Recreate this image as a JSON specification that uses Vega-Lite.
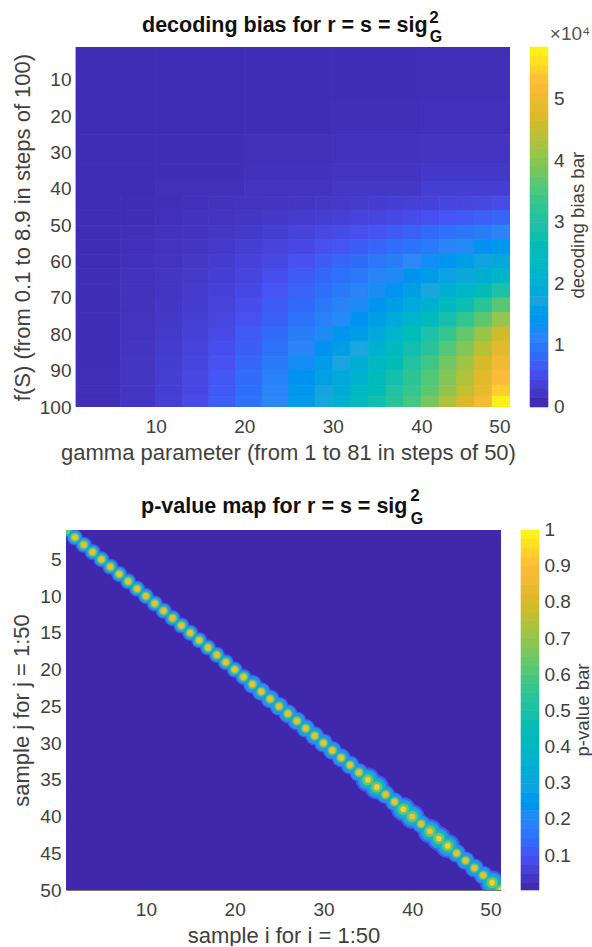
{"$schema":"https://vega.github.io/schema/vega-lite/v6.json","padding":{"left":10,"top":9,"right":4,"bottom":0},"background":"white","spacing":24,"resolve":{"scale":{"color":"independent","stroke":"independent"}},"config":{"view":{"stroke":null},"axis":{"labelFont":"Liberation Sans","titleFont":"Liberation Sans","labelFontSize":19,"titleFontSize":22,"labelColor":"#404040","titleColor":"#404040","titleFontWeight":"normal","grid":false,"ticks":false,"domainColor":"#777","labelOverlap":false},"title":{"font":"Liberation Sans","fontSize":21.5,"fontWeight":"bold","color":"#111","anchor":"start","frame":"group"}},"datasets":{"diag":[
{"i":1,"j":1,"p":0.6,"w":1},{"i":2,"j":2,"p":0.88,"w":1},{"i":3,"j":3,"p":0.87,"w":1},{"i":4,"j":4,"p":0.88,"w":1},{"i":5,"j":5,"p":0.88,"w":1},{"i":6,"j":6,"p":0.87,"w":1},{"i":7,"j":7,"p":0.89,"w":1},{"i":8,"j":8,"p":0.87,"w":1},{"i":9,"j":9,"p":0.88,"w":1},{"i":10,"j":10,"p":0.88,"w":1},
{"i":11,"j":11,"p":0.88,"w":1},{"i":12,"j":12,"p":0.89,"w":1},{"i":13,"j":13,"p":0.88,"w":1},{"i":14,"j":14,"p":0.88,"w":1},{"i":15,"j":15,"p":0.88,"w":1.05},{"i":16,"j":16,"p":0.89,"w":1.1},{"i":17,"j":17,"p":0.89,"w":1.1},{"i":18,"j":18,"p":0.88,"w":1.1},{"i":19,"j":19,"p":0.88,"w":1.1},{"i":20,"j":20,"p":0.88,"w":1.1},
{"i":21,"j":21,"p":0.88,"w":1.15},{"i":22,"j":22,"p":0.9,"w":1.25},{"i":23,"j":23,"p":0.9,"w":1.25},{"i":24,"j":24,"p":0.88,"w":1.2},{"i":25,"j":25,"p":0.89,"w":1.2},{"i":26,"j":26,"p":0.88,"w":1.2},{"i":27,"j":27,"p":0.88,"w":1.2},{"i":28,"j":28,"p":0.88,"w":1.25},{"i":29,"j":29,"p":0.9,"w":1.3},{"i":30,"j":30,"p":0.9,"w":1.3},
{"i":31,"j":31,"p":0.88,"w":1.3},{"i":32,"j":32,"p":0.88,"w":1.3},{"i":33,"j":33,"p":0.88,"w":1.3},{"i":34,"j":34,"p":0.88,"w":1.35},{"i":35,"j":35,"p":0.93,"w":1.6},{"i":36,"j":36,"p":0.93,"w":1.6},{"i":37,"j":37,"p":0.88,"w":1.4},{"i":38,"j":38,"p":0.9,"w":1.4},{"i":39,"j":39,"p":0.93,"w":1.55},{"i":40,"j":40,"p":0.9,"w":1.55},
{"i":41,"j":41,"p":0.88,"w":1.45},{"i":42,"j":42,"p":0.9,"w":1.5},{"i":43,"j":43,"p":0.93,"w":1.7},{"i":44,"j":44,"p":0.93,"w":1.7},{"i":45,"j":45,"p":0.88,"w":1.4},{"i":46,"j":46,"p":0.88,"w":1.3},{"i":47,"j":47,"p":0.88,"w":1.3},{"i":48,"j":48,"p":0.88,"w":1.3},{"i":49,"j":49,"p":0.93,"w":1.5},{"i":50,"j":50,"p":0.93,"w":1.5}
]},"vconcat":[{"width":444,"height":360,"title":{"text":"decoding bias for r = s = sig","dx":76,"offset":-27},"layer":[{"data":{"values":[
{"a":1,"b":10,"c":1,"d":15,"v":0.09},{"a":10,"b":20,"c":1,"d":15,"v":0.1},{"a":20,"b":30,"c":1,"d":15,"v":0.11},{"a":30,"b":40,"c":1,"d":15,"v":0.11},{"a":40,"b":50,"c":1,"d":15,"v":0.12},
{"a":1,"b":10,"c":15,"d":25,"v":0.09},{"a":10,"b":20,"c":15,"d":25,"v":0.1},{"a":20,"b":30,"c":15,"d":25,"v":0.11},{"a":30,"b":40,"c":15,"d":25,"v":0.12},{"a":40,"b":50,"c":15,"d":25,"v":0.14},
{"a":1,"b":10,"c":25,"d":33,"v":0.09},{"a":10,"b":20,"c":25,"d":33,"v":0.11},{"a":20,"b":30,"c":25,"d":33,"v":0.13},{"a":30,"b":40,"c":25,"d":33,"v":0.16},{"a":40,"b":50,"c":25,"d":33,"v":0.2},
{"a":1,"b":10,"c":33,"d":38,"v":0.09},{"a":10,"b":20,"c":33,"d":38,"v":0.11},{"a":20,"b":30,"c":33,"d":38,"v":0.15},{"a":30,"b":40,"c":33,"d":38,"v":0.2},{"a":40,"b":50,"c":33,"d":38,"v":0.25},
{"a":1,"b":10,"c":38,"d":42,"v":0.1},{"a":10,"b":20,"c":38,"d":42,"v":0.13},{"a":20,"b":30,"c":38,"d":42,"v":0.18},{"a":30,"b":40,"c":38,"d":42,"v":0.24},{"a":40,"b":50,"c":38,"d":42,"v":0.33},
{"a":1,"b":6,"c":42,"d":46,"v":0.09},{"a":6,"b":10,"c":42,"d":46,"v":0.11},{"a":10,"b":13,"c":42,"d":46,"v":0.12},{"a":13,"b":16,"c":42,"d":46,"v":0.14},{"a":16,"b":19,"c":42,"d":46,"v":0.16},{"a":19,"b":22,"c":42,"d":46,"v":0.18},{"a":22,"b":25,"c":42,"d":46,"v":0.2},{"a":25,"b":28,"c":42,"d":46,"v":0.22},{"a":28,"b":30,"c":42,"d":46,"v":0.24},{"a":30,"b":32,"c":42,"d":46,"v":0.26},{"a":32,"b":34,"c":42,"d":46,"v":0.29},{"a":34,"b":36,"c":42,"d":46,"v":0.31},{"a":36,"b":38,"c":42,"d":46,"v":0.33},{"a":38,"b":40,"c":42,"d":46,"v":0.35},{"a":40,"b":42,"c":42,"d":46,"v":0.38},{"a":42,"b":44,"c":42,"d":46,"v":0.41},{"a":44,"b":46,"c":42,"d":46,"v":0.43},{"a":46,"b":48,"c":42,"d":46,"v":0.46},{"a":48,"b":50,"c":42,"d":46,"v":0.49},
{"a":1,"b":6,"c":46,"d":50,"v":0.09},{"a":6,"b":10,"c":46,"d":50,"v":0.11},{"a":10,"b":13,"c":46,"d":50,"v":0.14},{"a":13,"b":16,"c":46,"d":50,"v":0.16},{"a":16,"b":19,"c":46,"d":50,"v":0.19},{"a":19,"b":22,"c":46,"d":50,"v":0.22},{"a":22,"b":25,"c":46,"d":50,"v":0.25},{"a":25,"b":28,"c":46,"d":50,"v":0.29},{"a":28,"b":30,"c":46,"d":50,"v":0.32},{"a":30,"b":32,"c":46,"d":50,"v":0.35},{"a":32,"b":34,"c":46,"d":50,"v":0.39},{"a":34,"b":36,"c":46,"d":50,"v":0.42},{"a":36,"b":38,"c":46,"d":50,"v":0.46},{"a":38,"b":40,"c":46,"d":50,"v":0.5},{"a":40,"b":42,"c":46,"d":50,"v":0.55},{"a":42,"b":44,"c":46,"d":50,"v":0.6},{"a":44,"b":46,"c":46,"d":50,"v":0.65},{"a":46,"b":48,"c":46,"d":50,"v":0.71},{"a":48,"b":50,"c":46,"d":50,"v":0.77},
{"a":1,"b":6,"c":50,"d":54,"v":0.1},{"a":6,"b":10,"c":50,"d":54,"v":0.13},{"a":10,"b":13,"c":50,"d":54,"v":0.16},{"a":13,"b":16,"c":50,"d":54,"v":0.19},{"a":16,"b":19,"c":50,"d":54,"v":0.23},{"a":19,"b":22,"c":50,"d":54,"v":0.27},{"a":22,"b":25,"c":50,"d":54,"v":0.32},{"a":25,"b":28,"c":50,"d":54,"v":0.39},{"a":28,"b":30,"c":50,"d":54,"v":0.44},{"a":30,"b":32,"c":50,"d":54,"v":0.49},{"a":32,"b":34,"c":50,"d":54,"v":0.55},{"a":34,"b":36,"c":50,"d":54,"v":0.61},{"a":36,"b":38,"c":50,"d":54,"v":0.67},{"a":38,"b":40,"c":50,"d":54,"v":0.74},{"a":40,"b":42,"c":50,"d":54,"v":0.82},{"a":42,"b":44,"c":50,"d":54,"v":0.9},{"a":44,"b":46,"c":50,"d":54,"v":0.98},{"a":46,"b":48,"c":50,"d":54,"v":1.06},{"a":48,"b":50,"c":50,"d":54,"v":1.14},
{"a":1,"b":6,"c":54,"d":58,"v":0.1},{"a":6,"b":10,"c":54,"d":58,"v":0.14},{"a":10,"b":13,"c":54,"d":58,"v":0.18},{"a":13,"b":16,"c":54,"d":58,"v":0.21},{"a":16,"b":19,"c":54,"d":58,"v":0.26},{"a":19,"b":22,"c":54,"d":58,"v":0.32},{"a":22,"b":25,"c":54,"d":58,"v":0.39},{"a":25,"b":28,"c":54,"d":58,"v":0.46},{"a":28,"b":30,"c":54,"d":58,"v":0.54},{"a":30,"b":32,"c":54,"d":58,"v":0.6},{"a":32,"b":34,"c":54,"d":58,"v":0.68},{"a":34,"b":36,"c":54,"d":58,"v":0.77},{"a":36,"b":38,"c":54,"d":58,"v":0.85},{"a":38,"b":40,"c":54,"d":58,"v":0.94},{"a":40,"b":42,"c":54,"d":58,"v":1.02},{"a":42,"b":44,"c":54,"d":58,"v":1.12},{"a":44,"b":46,"c":54,"d":58,"v":1.22},{"a":46,"b":48,"c":54,"d":58,"v":1.33},{"a":48,"b":50,"c":54,"d":58,"v":1.45},
{"a":1,"b":6,"c":58,"d":62,"v":0.1},{"a":6,"b":10,"c":58,"d":62,"v":0.15},{"a":10,"b":13,"c":58,"d":62,"v":0.19},{"a":13,"b":16,"c":58,"d":62,"v":0.24},{"a":16,"b":19,"c":58,"d":62,"v":0.31},{"a":19,"b":22,"c":58,"d":62,"v":0.38},{"a":22,"b":25,"c":58,"d":62,"v":0.46},{"a":25,"b":28,"c":58,"d":62,"v":0.57},{"a":28,"b":30,"c":58,"d":62,"v":0.67},{"a":30,"b":32,"c":58,"d":62,"v":0.77},{"a":32,"b":34,"c":58,"d":62,"v":0.86},{"a":34,"b":36,"c":58,"d":62,"v":0.96},{"a":36,"b":38,"c":58,"d":62,"v":1.06},{"a":38,"b":40,"c":58,"d":62,"v":1.17},{"a":40,"b":42,"c":58,"d":62,"v":1.29},{"a":42,"b":44,"c":58,"d":62,"v":1.42},{"a":44,"b":46,"c":58,"d":62,"v":1.56},{"a":46,"b":48,"c":58,"d":62,"v":1.7},{"a":48,"b":50,"c":58,"d":62,"v":1.85},
{"a":1,"b":6,"c":62,"d":66,"v":0.11},{"a":6,"b":10,"c":62,"d":66,"v":0.16},{"a":10,"b":13,"c":62,"d":66,"v":0.21},{"a":13,"b":16,"c":62,"d":66,"v":0.27},{"a":16,"b":19,"c":62,"d":66,"v":0.33},{"a":19,"b":22,"c":62,"d":66,"v":0.42},{"a":22,"b":25,"c":62,"d":66,"v":0.53},{"a":25,"b":28,"c":62,"d":66,"v":0.66},{"a":28,"b":30,"c":62,"d":66,"v":0.79},{"a":30,"b":32,"c":62,"d":66,"v":0.9},{"a":32,"b":34,"c":62,"d":66,"v":1.0},{"a":34,"b":36,"c":62,"d":66,"v":1.12},{"a":36,"b":38,"c":62,"d":66,"v":1.24},{"a":38,"b":40,"c":62,"d":66,"v":1.38},{"a":40,"b":42,"c":62,"d":66,"v":1.52},{"a":42,"b":44,"c":62,"d":66,"v":1.68},{"a":44,"b":46,"c":62,"d":66,"v":1.83},{"a":46,"b":48,"c":62,"d":66,"v":2.0},{"a":48,"b":50,"c":62,"d":66,"v":2.23},
{"a":1,"b":6,"c":66,"d":70,"v":0.11},{"a":6,"b":10,"c":66,"d":70,"v":0.17},{"a":10,"b":13,"c":66,"d":70,"v":0.22},{"a":13,"b":16,"c":66,"d":70,"v":0.28},{"a":16,"b":19,"c":66,"d":70,"v":0.36},{"a":19,"b":22,"c":66,"d":70,"v":0.46},{"a":22,"b":25,"c":66,"d":70,"v":0.59},{"a":25,"b":28,"c":66,"d":70,"v":0.74},{"a":28,"b":30,"c":66,"d":70,"v":0.88},{"a":30,"b":32,"c":66,"d":70,"v":0.99},{"a":32,"b":34,"c":66,"d":70,"v":1.12},{"a":34,"b":36,"c":66,"d":70,"v":1.25},{"a":36,"b":38,"c":66,"d":70,"v":1.39},{"a":38,"b":40,"c":66,"d":70,"v":1.6},{"a":40,"b":42,"c":66,"d":70,"v":1.78},{"a":42,"b":44,"c":66,"d":70,"v":2.0},{"a":44,"b":46,"c":66,"d":70,"v":2.25},{"a":46,"b":48,"c":66,"d":70,"v":2.55},{"a":48,"b":50,"c":66,"d":70,"v":2.9},
{"a":1,"b":6,"c":70,"d":74,"v":0.11},{"a":6,"b":10,"c":70,"d":74,"v":0.17},{"a":10,"b":13,"c":70,"d":74,"v":0.23},{"a":13,"b":16,"c":70,"d":74,"v":0.31},{"a":16,"b":19,"c":70,"d":74,"v":0.39},{"a":19,"b":22,"c":70,"d":74,"v":0.51},{"a":22,"b":25,"c":70,"d":74,"v":0.66},{"a":25,"b":28,"c":70,"d":74,"v":0.81},{"a":28,"b":30,"c":70,"d":74,"v":0.98},{"a":30,"b":32,"c":70,"d":74,"v":1.1},{"a":32,"b":34,"c":70,"d":74,"v":1.24},{"a":34,"b":36,"c":70,"d":74,"v":1.4},{"a":36,"b":38,"c":70,"d":74,"v":1.6},{"a":38,"b":40,"c":70,"d":74,"v":1.85},{"a":40,"b":42,"c":70,"d":74,"v":2.1},{"a":42,"b":44,"c":70,"d":74,"v":2.4},{"a":44,"b":46,"c":70,"d":74,"v":2.75},{"a":46,"b":48,"c":70,"d":74,"v":3.15},{"a":48,"b":50,"c":70,"d":74,"v":3.6},
{"a":1,"b":6,"c":74,"d":78,"v":0.11},{"a":6,"b":10,"c":74,"d":78,"v":0.18},{"a":10,"b":13,"c":74,"d":78,"v":0.25},{"a":13,"b":16,"c":74,"d":78,"v":0.33},{"a":16,"b":19,"c":74,"d":78,"v":0.43},{"a":19,"b":22,"c":74,"d":78,"v":0.56},{"a":22,"b":25,"c":74,"d":78,"v":0.72},{"a":25,"b":28,"c":74,"d":78,"v":0.91},{"a":28,"b":30,"c":74,"d":78,"v":1.08},{"a":30,"b":32,"c":74,"d":78,"v":1.22},{"a":32,"b":34,"c":74,"d":78,"v":1.38},{"a":34,"b":36,"c":74,"d":78,"v":1.6},{"a":36,"b":38,"c":74,"d":78,"v":1.88},{"a":38,"b":40,"c":74,"d":78,"v":2.2},{"a":40,"b":42,"c":74,"d":78,"v":2.5},{"a":42,"b":44,"c":74,"d":78,"v":2.85},{"a":44,"b":46,"c":74,"d":78,"v":3.25},{"a":46,"b":48,"c":74,"d":78,"v":3.65},{"a":48,"b":50,"c":74,"d":78,"v":4.1},
{"a":1,"b":6,"c":78,"d":82,"v":0.11},{"a":6,"b":10,"c":78,"d":82,"v":0.19},{"a":10,"b":13,"c":78,"d":82,"v":0.27},{"a":13,"b":16,"c":78,"d":82,"v":0.36},{"a":16,"b":19,"c":78,"d":82,"v":0.48},{"a":19,"b":22,"c":78,"d":82,"v":0.65},{"a":22,"b":25,"c":78,"d":82,"v":0.84},{"a":25,"b":28,"c":78,"d":82,"v":1.05},{"a":28,"b":30,"c":78,"d":82,"v":1.24},{"a":30,"b":32,"c":78,"d":82,"v":1.41},{"a":32,"b":34,"c":78,"d":82,"v":1.6},{"a":34,"b":36,"c":78,"d":82,"v":1.85},{"a":36,"b":38,"c":78,"d":82,"v":2.2},{"a":38,"b":40,"c":78,"d":82,"v":2.6},{"a":40,"b":42,"c":78,"d":82,"v":2.9},{"a":42,"b":44,"c":78,"d":82,"v":3.3},{"a":44,"b":46,"c":78,"d":82,"v":3.7},{"a":46,"b":48,"c":78,"d":82,"v":4.15},{"a":48,"b":50,"c":78,"d":82,"v":4.6},
{"a":1,"b":6,"c":82,"d":86,"v":0.11},{"a":6,"b":10,"c":82,"d":86,"v":0.2},{"a":10,"b":13,"c":82,"d":86,"v":0.29},{"a":13,"b":16,"c":82,"d":86,"v":0.39},{"a":16,"b":19,"c":82,"d":86,"v":0.53},{"a":19,"b":22,"c":82,"d":86,"v":0.7},{"a":22,"b":25,"c":82,"d":86,"v":0.91},{"a":25,"b":28,"c":82,"d":86,"v":1.15},{"a":28,"b":30,"c":82,"d":86,"v":1.36},{"a":30,"b":32,"c":82,"d":86,"v":1.56},{"a":32,"b":34,"c":82,"d":86,"v":1.76},{"a":34,"b":36,"c":82,"d":86,"v":2.05},{"a":36,"b":38,"c":82,"d":86,"v":2.4},{"a":38,"b":40,"c":82,"d":86,"v":2.8},{"a":40,"b":42,"c":82,"d":86,"v":3.15},{"a":42,"b":44,"c":82,"d":86,"v":3.55},{"a":44,"b":46,"c":82,"d":86,"v":3.95},{"a":46,"b":48,"c":82,"d":86,"v":4.4},{"a":48,"b":50,"c":82,"d":86,"v":4.85},
{"a":1,"b":6,"c":86,"d":90,"v":0.11},{"a":6,"b":10,"c":86,"d":90,"v":0.21},{"a":10,"b":13,"c":86,"d":90,"v":0.31},{"a":13,"b":16,"c":86,"d":90,"v":0.42},{"a":16,"b":19,"c":86,"d":90,"v":0.58},{"a":19,"b":22,"c":86,"d":90,"v":0.78},{"a":22,"b":25,"c":86,"d":90,"v":1.01},{"a":25,"b":28,"c":86,"d":90,"v":1.28},{"a":28,"b":30,"c":86,"d":90,"v":1.52},{"a":30,"b":32,"c":86,"d":90,"v":1.74},{"a":32,"b":34,"c":86,"d":90,"v":1.97},{"a":34,"b":36,"c":86,"d":90,"v":2.29},{"a":36,"b":38,"c":86,"d":90,"v":2.65},{"a":38,"b":40,"c":86,"d":90,"v":3.05},{"a":40,"b":42,"c":86,"d":90,"v":3.4},{"a":42,"b":44,"c":86,"d":90,"v":3.8},{"a":44,"b":46,"c":86,"d":90,"v":4.2},{"a":46,"b":48,"c":86,"d":90,"v":4.65},{"a":48,"b":50,"c":86,"d":90,"v":5.05},
{"a":1,"b":6,"c":90,"d":94,"v":0.12},{"a":6,"b":10,"c":90,"d":94,"v":0.21},{"a":10,"b":13,"c":90,"d":94,"v":0.32},{"a":13,"b":16,"c":90,"d":94,"v":0.45},{"a":16,"b":19,"c":90,"d":94,"v":0.62},{"a":19,"b":22,"c":90,"d":94,"v":0.84},{"a":22,"b":25,"c":90,"d":94,"v":1.08},{"a":25,"b":28,"c":90,"d":94,"v":1.36},{"a":28,"b":30,"c":90,"d":94,"v":1.63},{"a":30,"b":32,"c":90,"d":94,"v":1.86},{"a":32,"b":34,"c":90,"d":94,"v":2.13},{"a":34,"b":36,"c":90,"d":94,"v":2.5},{"a":36,"b":38,"c":90,"d":94,"v":2.84},{"a":38,"b":40,"c":90,"d":94,"v":3.2},{"a":40,"b":42,"c":90,"d":94,"v":3.55},{"a":42,"b":44,"c":90,"d":94,"v":3.95},{"a":44,"b":46,"c":90,"d":94,"v":4.35},{"a":46,"b":48,"c":90,"d":94,"v":4.8},{"a":48,"b":50,"c":90,"d":94,"v":5.25},
{"a":1,"b":6,"c":94,"d":97,"v":0.12},{"a":6,"b":10,"c":94,"d":97,"v":0.21},{"a":10,"b":13,"c":94,"d":97,"v":0.33},{"a":13,"b":16,"c":94,"d":97,"v":0.46},{"a":16,"b":19,"c":94,"d":97,"v":0.65},{"a":19,"b":22,"c":94,"d":97,"v":0.88},{"a":22,"b":25,"c":94,"d":97,"v":1.13},{"a":25,"b":28,"c":94,"d":97,"v":1.43},{"a":28,"b":30,"c":94,"d":97,"v":1.72},{"a":30,"b":32,"c":94,"d":97,"v":1.95},{"a":32,"b":34,"c":94,"d":97,"v":2.29},{"a":34,"b":36,"c":94,"d":97,"v":2.64},{"a":36,"b":38,"c":94,"d":97,"v":2.99},{"a":38,"b":40,"c":94,"d":97,"v":3.3},{"a":40,"b":42,"c":94,"d":97,"v":3.65},{"a":42,"b":44,"c":94,"d":97,"v":4.05},{"a":44,"b":46,"c":94,"d":97,"v":4.48},{"a":46,"b":48,"c":94,"d":97,"v":4.92},{"a":48,"b":50,"c":94,"d":97,"v":5.45},
{"a":1,"b":6,"c":97,"d":100,"v":0.12},{"a":6,"b":10,"c":97,"d":100,"v":0.22},{"a":10,"b":13,"c":97,"d":100,"v":0.34},{"a":13,"b":16,"c":97,"d":100,"v":0.48},{"a":16,"b":19,"c":97,"d":100,"v":0.68},{"a":19,"b":22,"c":97,"d":100,"v":0.92},{"a":22,"b":25,"c":97,"d":100,"v":1.18},{"a":25,"b":28,"c":97,"d":100,"v":1.5},{"a":28,"b":30,"c":97,"d":100,"v":1.8},{"a":30,"b":32,"c":97,"d":100,"v":2.05},{"a":32,"b":34,"c":97,"d":100,"v":2.45},{"a":34,"b":36,"c":97,"d":100,"v":2.8},{"a":36,"b":38,"c":97,"d":100,"v":3.15},{"a":38,"b":40,"c":97,"d":100,"v":3.45},{"a":40,"b":42,"c":97,"d":100,"v":3.85},{"a":42,"b":44,"c":97,"d":100,"v":4.3},{"a":44,"b":46,"c":97,"d":100,"v":4.7},{"a":46,"b":48,"c":97,"d":100,"v":5.15},{"a":48,"b":50,"c":97,"d":100,"v":5.75}
]},"mark":{"type":"rect","clip":true,"strokeWidth":0.8},"encoding":{"x":{"field":"a","type":"quantitative","scale":{"domain":[-0.129,50],"nice":false,"zero":false},"axis":{"values":[10,20,30,40,50],"title":"gamma parameter (from 1 to 81 in steps of 50)","labelPadding":10,"titlePadding":6,"labelOverlap":false,"domain":false}},"x2":{"field":"b"},"y":{"field":"c","type":"quantitative","scale":{"domain":[1,100],"reverse":true,"nice":false,"zero":false},"axis":{"values":[10,20,30,40,50,60,70,80,90,100],"tickCount":12,"offset":-10,"title":"f(S) (from 0.1 to 8.9 in steps of 100)","labelPadding":5,"domain":false,"titlePadding":5,"labelOverlap":false}},"y2":{"field":"d"},"color":{"field":"v","type":"quantitative","scale":{"domain":[0,0.585,1.17,1.755,2.34,2.925,3.51,4.095,4.68,5.265,5.85],"range":["#3e26a8","#4752f4","#2d87f7","#1ea5dd","#02b8c1","#1fc0a8","#4ac77c","#94c54c","#dab92a","#fdbb38","#f9fb15"]},"legend":null},"stroke":{"field":"v","type":"quantitative","scale":{"domain":[0,0.585,1.17,1.755,2.34,2.925,3.51,4.095,4.68,5.265,5.85],"range":["#3e26a8","#4752f4","#2d87f7","#1ea5dd","#02b8c1","#1fc0a8","#4ac77c","#94c54c","#dab92a","#fdbb38","#f9fb15"]},"legend":null}}},
{"data":{"values":[
{"a":52.26,"b":54.29,"c":1,"d":3.54,"v":5.775},{"a":52.26,"b":54.29,"c":3.54,"d":6.08,"v":5.625},{"a":52.26,"b":54.29,"c":6.08,"d":8.61,"v":5.475},{"a":52.26,"b":54.29,"c":8.61,"d":11.15,"v":5.325},{"a":52.26,"b":54.29,"c":11.15,"d":13.69,"v":5.175},{"a":52.26,"b":54.29,"c":13.69,"d":16.23,"v":5.025},{"a":52.26,"b":54.29,"c":16.23,"d":18.77,"v":4.875},{"a":52.26,"b":54.29,"c":18.77,"d":21.3,"v":4.725},
{"a":52.26,"b":54.29,"c":21.3,"d":23.84,"v":4.575},{"a":52.26,"b":54.29,"c":23.84,"d":26.38,"v":4.425},{"a":52.26,"b":54.29,"c":26.38,"d":28.92,"v":4.275},{"a":52.26,"b":54.29,"c":28.92,"d":31.46,"v":4.125},{"a":52.26,"b":54.29,"c":31.46,"d":33.99,"v":3.975},{"a":52.26,"b":54.29,"c":33.99,"d":36.53,"v":3.825},{"a":52.26,"b":54.29,"c":36.53,"d":39.07,"v":3.675},{"a":52.26,"b":54.29,"c":39.07,"d":41.61,"v":3.525},
{"a":52.26,"b":54.29,"c":41.61,"d":44.15,"v":3.375},{"a":52.26,"b":54.29,"c":44.15,"d":46.68,"v":3.225},{"a":52.26,"b":54.29,"c":46.68,"d":49.22,"v":3.075},{"a":52.26,"b":54.29,"c":49.22,"d":51.76,"v":2.925},{"a":52.26,"b":54.29,"c":51.76,"d":54.3,"v":2.775},{"a":52.26,"b":54.29,"c":54.3,"d":56.84,"v":2.625},{"a":52.26,"b":54.29,"c":56.84,"d":59.37,"v":2.475},{"a":52.26,"b":54.29,"c":59.37,"d":61.91,"v":2.325},
{"a":52.26,"b":54.29,"c":61.91,"d":64.45,"v":2.175},{"a":52.26,"b":54.29,"c":64.45,"d":66.99,"v":2.025},{"a":52.26,"b":54.29,"c":66.99,"d":69.53,"v":1.875},{"a":52.26,"b":54.29,"c":69.53,"d":72.06,"v":1.725},{"a":52.26,"b":54.29,"c":72.06,"d":74.6,"v":1.575},{"a":52.26,"b":54.29,"c":74.6,"d":77.14,"v":1.425},{"a":52.26,"b":54.29,"c":77.14,"d":79.68,"v":1.275},{"a":52.26,"b":54.29,"c":79.68,"d":82.22,"v":1.125},
{"a":52.26,"b":54.29,"c":82.22,"d":84.75,"v":0.975},{"a":52.26,"b":54.29,"c":84.75,"d":87.29,"v":0.825},{"a":52.26,"b":54.29,"c":87.29,"d":89.83,"v":0.675},{"a":52.26,"b":54.29,"c":89.83,"d":92.37,"v":0.525},{"a":52.26,"b":54.29,"c":92.37,"d":94.91,"v":0.375},{"a":52.26,"b":54.29,"c":94.91,"d":97.44,"v":0.225},{"a":52.26,"b":54.29,"c":97.44,"d":100,"v":0.075}
]},"mark":{"type":"rect","clip":false,"strokeWidth":0.6},"encoding":{"x":{"field":"a","type":"quantitative"},"x2":{"field":"b"},"y":{"field":"c","type":"quantitative"},"y2":{"field":"d"},"color":{"field":"v","type":"quantitative"},"stroke":{"field":"v","type":"quantitative"}}},
{"data":{"values":[{"a":54.97,"c":15.38,"t":"5"},{"a":54.97,"c":32.31,"t":"4"},{"a":54.97,"c":49.23,"t":"3"},{"a":54.97,"c":66.15,"t":"2"},{"a":54.97,"c":83.08,"t":"1"},{"a":54.97,"c":100,"t":"0"}]},"mark":{"type":"text","align":"left","baseline":"middle","font":"Liberation Sans","fontSize":19,"color":"#404040","clip":false},"encoding":{"x":{"field":"a","type":"quantitative"},"y":{"field":"c","type":"quantitative"},"text":{"field":"t"}}},
{"mark":{"type":"rule","color":"#777","strokeWidth":1},"encoding":{"x":{"datum":1},"x2":{"datum":50},"y":{"datum":100}}},
{"data":{"values":[{"t":"2"}]},"mark":{"type":"text","font":"Liberation Sans","fontWeight":"bold","fontSize":17,"color":"#111","dx":-76,"dy":-29,"clip":false},"encoding":{"x":{"datum":50},"y":{"datum":1},"text":{"field":"t"}}},
{"data":{"values":[{"t":"G"}]},"mark":{"type":"text","font":"Liberation Sans","fontWeight":"bold","fontSize":16,"color":"#111","dx":-74,"dy":-10,"clip":false},"encoding":{"x":{"datum":50},"y":{"datum":1},"text":{"field":"t"}}},
{"data":{"values":[{"t":"×10⁴"}]},"mark":{"type":"text","font":"Liberation Sans","fontSize":19,"color":"#555","dx":60,"dy":-13,"clip":false},"encoding":{"x":{"datum":50},"y":{"datum":1},"text":{"field":"t"}}},
{"data":{"values":[{"t":"decoding bias bar"}]},"mark":{"type":"text","font":"Liberation Sans","fontSize":18.6,"color":"#404040","angle":270,"dy":68,"clip":false},"encoding":{"x":{"datum":50},"y":{"datum":50},"text":{"field":"t"}}}
]},
{"width":435,"height":360,"title":{"text":"p-value map for r = s = sig","dx":75,"offset":-30},"layer":[
{"data":{"values":[{"a":1,"b":50,"c":1,"d":50,"p":0.005}]},"mark":{"type":"rect","clip":true},"encoding":{"x":{"field":"a","type":"quantitative","scale":{"domain":[1,50],"nice":false,"zero":false},"axis":{"values":[10,20,30,40,50],"title":"sample i for i = 1:50","labelPadding":10,"titlePadding":6,"labelOverlap":false}},"x2":{"field":"b"},"y":{"field":"c","type":"quantitative","scale":{"domain":[1,50],"reverse":true,"nice":false,"zero":false},"axis":{"values":[5,10,15,20,25,30,35,40,45,50],"tickCount":12,"title":"sample j for j = 1:50","labelPadding":5,"domain":false,"titlePadding":6,"labelOverlap":false}},"y2":{"field":"d"},"color":{"field":"p","type":"quantitative","scale":{"domain":[0,0.1,0.2,0.3,0.4,0.5,0.6,0.7,0.8,0.9,1],"range":["#3e26a8","#4752f4","#2d87f7","#1ea5dd","#02b8c1","#1fc0a8","#4ac77c","#94c54c","#dab92a","#fdbb38","#f9fb15"]},"legend":null}}},
{"data":{"values":[
{"a":52.25,"b":54.28,"c":1,"d":2.23,"p":0.988},{"a":52.25,"b":54.28,"c":2.23,"d":3.46,"p":0.963},{"a":52.25,"b":54.28,"c":3.46,"d":4.69,"p":0.938},{"a":52.25,"b":54.28,"c":4.69,"d":5.92,"p":0.913},{"a":52.25,"b":54.28,"c":5.92,"d":7.16,"p":0.888},{"a":52.25,"b":54.28,"c":7.16,"d":8.39,"p":0.863},{"a":52.25,"b":54.28,"c":8.39,"d":9.62,"p":0.838},{"a":52.25,"b":54.28,"c":9.62,"d":10.85,"p":0.813},
{"a":52.25,"b":54.28,"c":10.85,"d":12.08,"p":0.788},{"a":52.25,"b":54.28,"c":12.08,"d":13.31,"p":0.763},{"a":52.25,"b":54.28,"c":13.31,"d":14.54,"p":0.738},{"a":52.25,"b":54.28,"c":14.54,"d":15.77,"p":0.713},{"a":52.25,"b":54.28,"c":15.77,"d":17,"p":0.688},{"a":52.25,"b":54.28,"c":17,"d":18.23,"p":0.663},{"a":52.25,"b":54.28,"c":18.23,"d":19.46,"p":0.638},{"a":52.25,"b":54.28,"c":19.46,"d":20.7,"p":0.613},
{"a":52.25,"b":54.28,"c":20.7,"d":21.93,"p":0.588},{"a":52.25,"b":54.28,"c":21.93,"d":23.16,"p":0.563},{"a":52.25,"b":54.28,"c":23.16,"d":24.39,"p":0.538},{"a":52.25,"b":54.28,"c":24.39,"d":25.62,"p":0.513},{"a":52.25,"b":54.28,"c":25.62,"d":26.85,"p":0.488},{"a":52.25,"b":54.28,"c":26.85,"d":28.08,"p":0.463},{"a":52.25,"b":54.28,"c":28.08,"d":29.31,"p":0.438},{"a":52.25,"b":54.28,"c":29.31,"d":30.54,"p":0.413},
{"a":52.25,"b":54.28,"c":30.54,"d":31.77,"p":0.388},{"a":52.25,"b":54.28,"c":31.77,"d":33,"p":0.363},{"a":52.25,"b":54.28,"c":33,"d":34.24,"p":0.338},{"a":52.25,"b":54.28,"c":34.24,"d":35.47,"p":0.313},{"a":52.25,"b":54.28,"c":35.47,"d":36.7,"p":0.288},{"a":52.25,"b":54.28,"c":36.7,"d":37.93,"p":0.263},{"a":52.25,"b":54.28,"c":37.93,"d":39.16,"p":0.238},{"a":52.25,"b":54.28,"c":39.16,"d":40.39,"p":0.213},
{"a":52.25,"b":54.28,"c":40.39,"d":41.62,"p":0.188},{"a":52.25,"b":54.28,"c":41.62,"d":42.85,"p":0.163},{"a":52.25,"b":54.28,"c":42.85,"d":44.08,"p":0.138},{"a":52.25,"b":54.28,"c":44.08,"d":45.31,"p":0.113},{"a":52.25,"b":54.28,"c":45.31,"d":46.54,"p":0.088},{"a":52.25,"b":54.28,"c":46.54,"d":47.77,"p":0.063},{"a":52.25,"b":54.28,"c":47.77,"d":49,"p":0.038},{"a":52.25,"b":54.28,"c":49,"d":50,"p":0.013}
]},"mark":{"type":"rect","clip":false,"strokeWidth":0.6},"encoding":{"x":{"field":"a","type":"quantitative"},"x2":{"field":"b"},"y":{"field":"c","type":"quantitative"},"y2":{"field":"d"},"color":{"field":"p","type":"quantitative"},"stroke":{"field":"p","type":"quantitative","scale":{"domain":[0,0.1,0.2,0.3,0.4,0.5,0.6,0.7,0.8,0.9,1],"range":["#3e26a8","#4752f4","#2d87f7","#1ea5dd","#02b8c1","#1fc0a8","#4ac77c","#94c54c","#dab92a","#fdbb38","#f9fb15"]},"legend":null}}},
{"data":{"values":[{"a":54.9,"c":1,"t":"1"},{"a":54.9,"c":5.92,"t":"0.9"},{"a":54.9,"c":10.85,"t":"0.8"},{"a":54.9,"c":15.77,"t":"0.7"},{"a":54.9,"c":20.7,"t":"0.6"},{"a":54.9,"c":25.62,"t":"0.5"},{"a":54.9,"c":30.54,"t":"0.4"},{"a":54.9,"c":35.47,"t":"0.3"},{"a":54.9,"c":40.39,"t":"0.2"},{"a":54.9,"c":45.31,"t":"0.1"}]},"mark":{"type":"text","align":"left","baseline":"middle","font":"Liberation Sans","fontSize":19,"color":"#404040","clip":false},"encoding":{"x":{"field":"a","type":"quantitative"},"y":{"field":"c","type":"quantitative"},"text":{"field":"t"}}},
{"data":{"name":"diag"},"mark":{"type":"circle","opacity":1,"clip":true,"color":"#4058f0","size":260},"encoding":{"x":{"field":"i","type":"quantitative"},"y":{"field":"j","type":"quantitative"}}},
{"data":{"name":"diag"},"transform":[{"filter":"datum.w>=1.2"}],"mark":{"type":"circle","opacity":1,"clip":true,"color":"#4058f0","size":360},"encoding":{"x":{"field":"i","type":"quantitative"},"y":{"field":"j","type":"quantitative"}}},
{"data":{"name":"diag"},"transform":[{"filter":"datum.w>=1.5"}],"mark":{"type":"circle","opacity":1,"clip":true,"color":"#4058f0","size":600},"encoding":{"x":{"field":"i","type":"quantitative"},"y":{"field":"j","type":"quantitative"}}},
{"data":{"name":"diag"},"mark":{"type":"circle","opacity":1,"clip":true,"color":"#2a90ea","size":185},"encoding":{"x":{"field":"i","type":"quantitative"},"y":{"field":"j","type":"quantitative"}}},
{"data":{"name":"diag"},"transform":[{"filter":"datum.w>=1.2"}],"mark":{"type":"circle","opacity":1,"clip":true,"color":"#2a90ea","size":270},"encoding":{"x":{"field":"i","type":"quantitative"},"y":{"field":"j","type":"quantitative"}}},
{"data":{"name":"diag"},"transform":[{"filter":"datum.w>=1.5"}],"mark":{"type":"circle","opacity":1,"clip":true,"color":"#2a90ea","size":420},"encoding":{"x":{"field":"i","type":"quantitative"},"y":{"field":"j","type":"quantitative"}}},
{"data":{"name":"diag"},"mark":{"type":"circle","opacity":1,"clip":true,"color":"#12b5c0","size":125},"encoding":{"x":{"field":"i","type":"quantitative"},"y":{"field":"j","type":"quantitative"}}},
{"data":{"name":"diag"},"transform":[{"filter":"datum.w>=1.5"}],"mark":{"type":"circle","opacity":1,"clip":true,"color":"#12b5c0","size":270},"encoding":{"x":{"field":"i","type":"quantitative"},"y":{"field":"j","type":"quantitative"}}},
{"data":{"name":"diag"},"mark":{"type":"circle","opacity":1,"clip":true,"color":"#5cc878","size":80},"encoding":{"x":{"field":"i","type":"quantitative"},"y":{"field":"j","type":"quantitative"}}},
{"data":{"name":"diag"},"transform":[{"filter":"datum.w>=1.5"}],"mark":{"type":"circle","opacity":1,"clip":true,"color":"#5cc878","size":130},"encoding":{"x":{"field":"i","type":"quantitative"},"y":{"field":"j","type":"quantitative"}}},
{"data":{"name":"diag"},"mark":{"type":"circle","opacity":1,"clip":true,"color":"#c0c040","size":44},"encoding":{"x":{"field":"i","type":"quantitative"},"y":{"field":"j","type":"quantitative"}}},
{"data":{"name":"diag"},"mark":{"type":"circle","opacity":1,"clip":true,"size":26},"encoding":{"x":{"field":"i","type":"quantitative"},"y":{"field":"j","type":"quantitative"},"color":{"field":"p","type":"quantitative"}}},
{"data":{"values":[{"t":"2"}]},"mark":{"type":"text","font":"Liberation Sans","fontWeight":"bold","fontSize":17,"color":"#111","dx":-86,"dy":-34,"clip":false},"encoding":{"x":{"datum":50},"y":{"datum":1},"text":{"field":"t"}}},
{"data":{"values":[{"t":"G"}]},"mark":{"type":"text","font":"Liberation Sans","fontWeight":"bold","fontSize":16,"color":"#111","dx":-84,"dy":-11,"clip":false},"encoding":{"x":{"datum":50},"y":{"datum":1},"text":{"field":"t"}}},
{"data":{"values":[{"t":"p-value bar"}]},"mark":{"type":"text","font":"Liberation Sans","fontSize":18.6,"color":"#404040","angle":270,"dy":82,"clip":false},"encoding":{"x":{"datum":50},"y":{"datum":25.5},"text":{"field":"t"}}}
]}]}
